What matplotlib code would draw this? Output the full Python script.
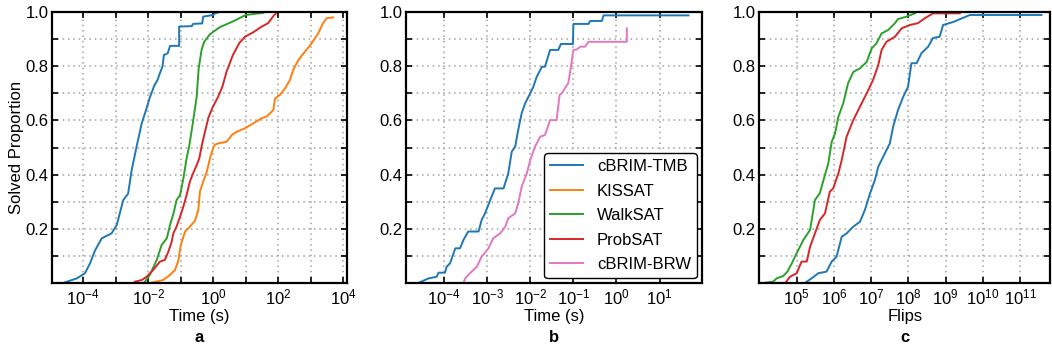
import numpy as np
import matplotlib
matplotlib.use("Agg")
import matplotlib.pyplot as plt
from matplotlib.ticker import FixedLocator, NullLocator, FuncFormatter
from matplotlib.lines import Line2D

plt.rcParams['font.family'] = ['Liberation Sans', 'DejaVu Sans']
plt.rcParams['mathtext.fontset'] = 'custom'
plt.rcParams['mathtext.rm'] = 'Liberation Sans'
plt.rcParams['mathtext.it'] = 'Liberation Sans:italic'
plt.rcParams['font.size'] = 12

# ---- data: (log10 of x, solved proportion) ----
# panel a : time (s)
tmb_a_logx = [-4.62, -4.5, -4.2, -3.95, -3.79, -3.64, -3.43, -3.13, -2.97, -2.77, -2.62, -2.51,
              -2.36, -2.2, -2.07, -1.95, -1.82, -1.72, -1.66, -1.56, -1.52, -1.40, -1.33, -1.05,
              -1.05, -0.66, -0.62, -0.34, -0.31, 0.0, 0.05, 0.2, 1.59]
tmb_a_p = [0.0, 0.005, 0.017, 0.036, 0.073, 0.12, 0.165, 0.183, 0.214, 0.306, 0.33, 0.417,
           0.503, 0.59, 0.638, 0.685, 0.727, 0.748, 0.768, 0.80, 0.841, 0.848, 0.875, 0.875,
           0.946, 0.948, 0.956, 0.958, 0.983, 0.989, 0.995, 1.0, 1.0]

kissat_a_logx = [-1.95, -1.54, -1.33, -1.18, -1.08, -1.0, -0.87, -0.72, -0.56, -0.46, -0.41, -0.31,
                 -0.2, -0.1, 0.0, 0.05, 0.15, 0.41, 0.57, 0.72, 0.98, 1.23, 1.49, 1.64, 1.85, 1.9,
                 2.05, 2.21, 2.36, 2.46, 2.62, 2.82, 3.03, 3.23, 3.38, 3.49, 3.69]
kissat_a_p = [0.0, 0.011, 0.03, 0.048, 0.079, 0.14, 0.189, 0.208, 0.23, 0.27, 0.337, 0.374,
              0.41, 0.46, 0.50, 0.51, 0.515, 0.521, 0.546, 0.558, 0.571, 0.589, 0.608, 0.614, 0.638, 0.681,
              0.694, 0.718, 0.749, 0.786, 0.823, 0.853, 0.885, 0.921, 0.959, 0.977, 0.98]

walksat_a_logx = [-2.15, -2.1, -1.95, -1.74, -1.59, -1.43, -1.33, -1.21, -1.13, -1.02, -0.92, -0.82,
                  -0.74, -0.63, -0.51, -0.45, -0.36, -0.28, -0.1, 0.2, 0.62, 1.0, 1.54, 1.6]
walksat_a_p = [0.0, 0.005, 0.03, 0.085, 0.14, 0.165, 0.214, 0.263, 0.306, 0.325, 0.386, 0.46,
               0.505, 0.589, 0.687, 0.79, 0.86, 0.89, 0.918, 0.944, 0.966, 0.989, 0.997, 1.0]

probsat_a_logx = [-2.45, -2.41, -2.2, -2.05, -1.85, -1.64, -1.49, -1.38, -1.28, -1.23, -1.13, -1.02,
                  -0.92, -0.82, -0.72, -0.62, -0.51, -0.43, -0.34, -0.15, -0.02, 0.15, 0.28, 0.41,
                  0.6, 0.8, 0.98, 1.23, 1.49, 1.69, 1.85, 1.95, 2.0, 2.62]
probsat_a_p = [0.0, 0.005, 0.011, 0.023, 0.048, 0.079, 0.085, 0.116, 0.152, 0.183, 0.208, 0.245,
               0.282, 0.325, 0.374, 0.405, 0.435, 0.46, 0.515, 0.61, 0.648, 0.687, 0.724, 0.78,
               0.84, 0.885, 0.909, 0.925, 0.946, 0.959, 0.985, 0.997, 1.0, 1.0]

# panel b : time (s)
tmb_b_logx = [-4.6, -4.36, -4.17, -4.13, -3.98, -3.94, -3.86, -3.74, -3.63, -3.55, -3.44, -3.2,
              -3.13, -3.05, -2.93, -2.82, -2.62, -2.51, -2.43, -2.35, -2.28, -2.2, -2.12, -2.0,
              -1.93, -1.85, -1.73, -1.66, -1.54, -1.35, -1.29, -1.01, -1.0, -0.65, -0.61, -0.34,
              -0.3, 1.67]
tmb_b_p = [0.0, 0.017, 0.023, 0.038, 0.038, 0.06, 0.073, 0.128, 0.128, 0.159, 0.19, 0.19,
           0.232, 0.257, 0.306, 0.349, 0.349, 0.405, 0.485, 0.503, 0.565, 0.626, 0.663, 0.70,
           0.724, 0.761, 0.798, 0.798, 0.86, 0.86, 0.882, 0.882, 0.956, 0.956, 0.967, 0.967,
           0.9875, 0.9875]

brw_b_logx = [-3.55, -3.51, -3.4, -3.24, -3.13, -2.97, -2.86, -2.7, -2.58, -2.51, -2.35, -2.28,
              -2.2, -2.08, -2.0, -1.89, -1.77, -1.66, -1.54, -1.39, -1.32, -1.27, -1.12, -1.08,
              -1.0, -0.92, -0.84, -0.73, -0.65, 0.24, 0.24]
brw_b_p = [0.0, 0.017, 0.036, 0.06, 0.097, 0.128, 0.165, 0.183, 0.208, 0.239, 0.257, 0.294,
           0.355, 0.405, 0.454, 0.503, 0.54, 0.546, 0.601, 0.601, 0.694, 0.70, 0.737, 0.774,
           0.86, 0.862, 0.872, 0.872, 0.89, 0.89, 0.94]

# panel c : flips
walksat_c_logx = [4.1, 4.37, 4.46, 4.64, 4.75, 4.87, 5.0, 5.18, 5.36, 5.49, 5.62, 5.76, 5.85,
                  5.94, 6.03, 6.12, 6.25, 6.38, 6.52, 6.7, 6.88, 7.01, 7.14, 7.28, 7.46, 7.64,
                  7.72, 7.95, 8.17, 8.22]
walksat_c_p = [0.0, 0.005, 0.017, 0.026, 0.042, 0.073, 0.11, 0.159, 0.196, 0.306, 0.331, 0.399, 0.442,
               0.521, 0.552, 0.614, 0.663, 0.737, 0.779, 0.792, 0.816, 0.865, 0.884, 0.921, 0.934, 0.959,
               0.974, 0.983, 0.995, 1.0]

probsat_c_logx = [4.0, 4.69, 4.82, 5.0, 5.13, 5.27, 5.36, 5.49, 5.62, 5.76, 5.89, 5.98, 6.12,
                  6.21, 6.34, 6.52, 6.7, 6.88, 7.05, 7.19, 7.28, 7.41, 7.64, 7.82, 8.04, 8.26,
                  8.44, 8.66, 9.38]
probsat_c_p = [0.0, 0.0, 0.023, 0.036, 0.079, 0.079, 0.134, 0.183, 0.232, 0.257, 0.337, 0.349, 0.405,
               0.454, 0.54, 0.601, 0.651, 0.70, 0.749, 0.804, 0.86, 0.89, 0.909, 0.94, 0.952, 0.959,
               0.977, 0.995, 0.995]

tmb_c_logx = [5.22, 5.4, 5.58, 5.8, 5.94, 6.07, 6.21, 6.34, 6.52, 6.7, 6.83, 6.97, 7.1, 7.19,
              7.37, 7.5, 7.59, 7.72, 7.86, 7.99, 8.08, 8.22, 8.35, 8.53, 8.66, 8.84, 8.93, 9.2,
              9.65, 11.57]
tmb_c_p = [0.0, 0.017, 0.036, 0.042, 0.079, 0.097, 0.171, 0.183, 0.208, 0.226, 0.269, 0.331, 0.38,
           0.429, 0.479, 0.515, 0.577, 0.638, 0.687, 0.724, 0.811, 0.811, 0.848, 0.872, 0.904, 0.909,
           0.952, 0.963, 0.989, 0.989]

names = ['cBRIM-TMB', 'KISSAT', 'WalkSAT', 'ProbSAT', 'cBRIM-BRW']
colors = {'cBRIM-TMB': '#1f77b4', 'KISSAT': '#ff7f0e', 'WalkSAT': '#2ca02c',
          'ProbSAT': '#d62728', 'cBRIM-BRW': '#e377c2'}

fig = plt.figure(figsize=(10.52, 3.53), dpi=100)
axa = fig.add_axes([0.0497, 0.1983, 0.2798, 0.7677])
axb = fig.add_axes([0.3857, 0.1983, 0.2814, 0.7677])
axc = fig.add_axes([0.7218, 0.1983, 0.2766, 0.7677])

lw = 1.4
def draw(ax, logx, p, name):
    ax.plot(10 ** np.array(logx), p, color=colors[name], lw=lw, label=name)

draw(axa, tmb_a_logx, tmb_a_p, 'cBRIM-TMB')
draw(axa, kissat_a_logx, kissat_a_p, 'KISSAT')
draw(axa, walksat_a_logx, walksat_a_p, 'WalkSAT')
draw(axa, probsat_a_logx, probsat_a_p, 'ProbSAT')

draw(axb, tmb_b_logx, tmb_b_p, 'cBRIM-TMB')
draw(axb, brw_b_logx, brw_b_p, 'cBRIM-BRW')

draw(axc, tmb_c_logx, tmb_c_p, 'cBRIM-TMB')
draw(axc, walksat_c_logx, walksat_c_p, 'WalkSAT')
draw(axc, probsat_c_logx, probsat_c_p, 'ProbSAT')

xlims = [(10 ** -4.954, 10 ** 4.105), (10 ** -4.889, 10 ** 1.979), (10 ** 3.997, 10 ** 11.81)]
xlabels = ['Time (s)', 'Time (s)', 'Flips']
letters = ['a', 'b', 'c']

def sci(v, pos, every=1):
    e = int(round(np.log10(v)))
    if e % every != 0:
        return ''
    return r'$10^{%d}$' % e

for i, ax in enumerate([axa, axb, axc]):
    ax.set_xscale('log')
    ax.set_xlim(*xlims[i])
    ax.set_ylim(0, 1.0)
    lo, hi = np.log10(xlims[i])
    decades = 10.0 ** np.arange(np.ceil(lo + 0.05), np.floor(hi) + 1)
    ax.xaxis.set_major_locator(FixedLocator(decades))
    ax.xaxis.set_minor_locator(NullLocator())
    every = 2 if i == 0 else 1
    ax.xaxis.set_major_formatter(FuncFormatter(lambda v, pos, ev=every: sci(v, pos, ev)))
    ax.yaxis.set_major_locator(FixedLocator([0.2, 0.4, 0.6, 0.8, 1.0]))
    ax.yaxis.set_minor_locator(FixedLocator([0.1, 0.3, 0.5, 0.7, 0.9]))
    ax.yaxis.set_major_formatter(FuncFormatter(lambda v, pos: '%.1f' % v))
    ax.grid(True, which='major', axis='x', ls=(0, (1, 2.5)), color='#a0a0a0', lw=1.1)
    ax.grid(True, which='both', axis='y', ls=(0, (1, 2.5)), color='#a0a0a0', lw=1.1)
    ax.tick_params(which='both', direction='in', top=True, right=True, width=1.2, labelsize=12)
    ax.tick_params(which='major', length=4)
    ax.tick_params(which='minor', length=4)
    ax.tick_params(axis='y', which='major', pad=2.5)
    ax.tick_params(axis='x', which='major', pad=3.5)
    for s in ax.spines.values():
        s.set_linewidth(1.6)
    ax.set_xlabel(xlabels[i], fontsize=12, labelpad=1)
    pos = ax.get_position()
    fig.text(pos.x0 + pos.width / 2, 0.045, letters[i], ha='center', va='center',
             fontsize=12, fontweight='bold')

axa.set_ylabel('Solved Proportion', fontsize=12, labelpad=1)

handles = [Line2D([], [], color=colors[n], lw=lw) for n in names]
leg = axb.legend(handles, names, loc='lower right', fontsize=12, frameon=True, fancybox=True,
                 borderaxespad=0.3, handlelength=2.0, handletextpad=0.8, labelspacing=0.57,
                 borderpad=0.35)
leg.get_frame().set_edgecolor('black')
leg.get_frame().set_linewidth(1.0)
leg.get_frame().set_alpha(1.0)

fig.savefig('out.png', dpi=100)
